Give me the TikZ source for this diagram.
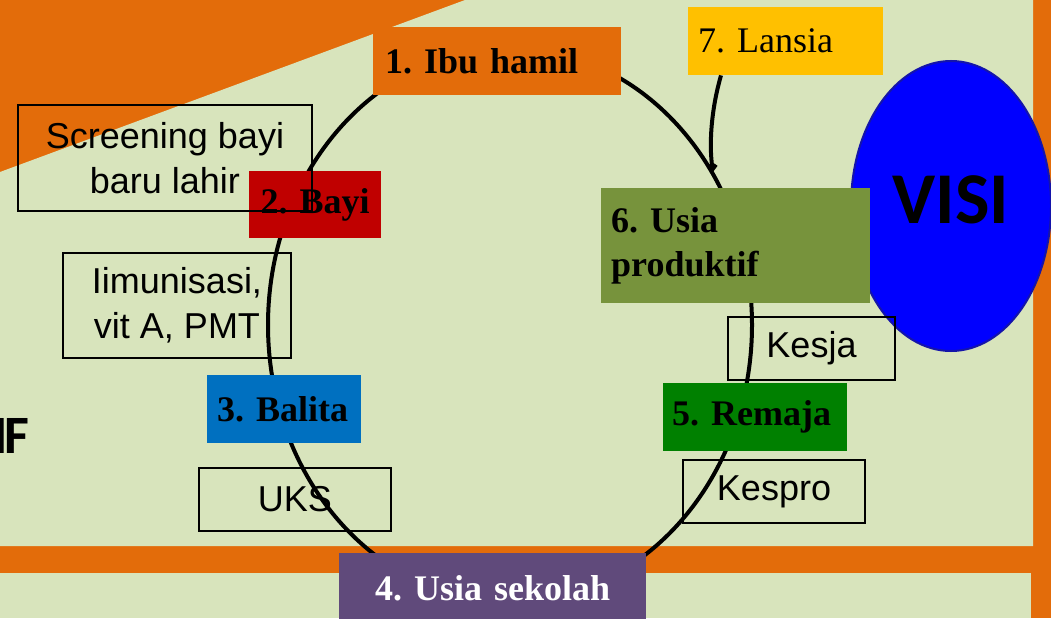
\documentclass[tikz,border=0pt]{standalone}
\usepackage{fontspec}
\setmainfont{Liberation Serif}
\newfontfamily\arialfont{Liberation Sans}
\newfontfamily\calibrifont{Carlito}
\usetikzlibrary{shapes.geometric,arrows.meta}
\frenchspacing

\definecolor{bgorange}{RGB}{227,108,10}
\definecolor{panelgreen}{RGB}{216,228,188}
\definecolor{ibuorange}{RGB}{227,108,10}
\definecolor{bayired}{RGB}{192,0,0}
\definecolor{balitablue}{RGB}{0,112,192}
\definecolor{sekolahpurple}{RGB}{96,74,123}
\definecolor{remajagreen}{RGB}{0,128,0}
\definecolor{produktifgreen}{RGB}{119,147,60}
\definecolor{lansiayellow}{RGB}{255,192,0}
\definecolor{visiblue}{RGB}{0,0,255}
\definecolor{visiedge}{RGB}{20,20,170}

\tikzstyle{stage} = [rectangle, anchor=north west, inner xsep=8pt, inner ysep=0pt,
	align=left, font=\bfseries\fontsize{36}{44}\selectfont]
\tikzstyle{note} = [rectangle, draw, line width=1.5pt, inner sep=0pt,
	align=center, font=\arialfont\fontsize{36}{45}\selectfont]

\begin{document}
\begin{tikzpicture}[x=1pt, y=-1pt]
	\useasboundingbox (0,0) rectangle (1051,618);
	% background panels
	\fill[bgorange] (0,0) rectangle (1051,618);
	\fill[panelgreen] (0,172) -- (465,0) -- (1033,0) -- (1033,546) -- (0,546) -- cycle;
	\fill[panelgreen] (0,573) rectangle (1031,618);
	\node [anchor=base east, inner sep=0pt, font=\calibrifont\bfseries\fontsize{54}{60}\selectfont] (misi) at (29,453) {I\kern-4pt F};
	
	% life cycle
	\draw[line width=4pt] (510,325) ellipse [x radius=242, y radius=277];
	
	\node [ellipse, fill=visiblue, draw=visiedge, line width=2pt, minimum width=200pt, minimum height=290pt,
		inner sep=0pt, text depth=12pt, font=\calibrifont\bfseries\fontsize{73}{80}\selectfont] (visi) at (951,206) {VISI};
	
	\node [stage, fill=ibuorange, text width=232pt, minimum height=68pt] (ibu) at (373,27) {\hspace*{4pt}1. Ibu hamil};
	\node [stage, fill=bayired, text width=116pt, minimum height=67pt, align=center] (bayi) at (249,171) {2. Bayi};
	\node [stage, fill=balitablue, text width=138pt, minimum height=68pt] (balita) at (207,375) {\hspace*{2pt}3. Balita};
	\node [stage, fill=sekolahpurple, text width=291pt, minimum height=70pt, align=center, text=white] (sekolah) at (339,553) {4. Usia sekolah};
	\node [stage, fill=remajagreen, text width=168pt, minimum height=68pt] (remaja) at (663,383) {\hspace*{1pt}5. Remaja};
	\node [stage, fill=produktifgreen, text width=253pt, minimum height=115pt] (produktif) at (601,188) {\hspace*{2pt}6. Usia\\\hspace*{2pt}produktif};
	\node [stage, fill=lansiayellow, text width=179pt, minimum height=68pt, font=\fontsize{36}{44}\selectfont] (lansia) at (688,7) {\hspace*{2pt}7. Lansia};
	
	\node [note, minimum width=294pt, minimum height=106pt] (screening) at (165,158) {Screening bayi\\baru lahir};
	\node [note, minimum width=228pt, minimum height=105pt] (imunisasi) at (177,305.5) {Iimunisasi,\\vit A, PMT};
	\node [note, minimum width=192pt, minimum height=63pt] (uks) at (295,499.5) {UKS};
	\node [note, minimum width=182pt, minimum height=63pt] (kespro) at (774,491.5) {Kespro};
	\node [note, minimum width=167pt, minimum height=63pt] (kesja) at (811.5,348.5) {Kesja};
	
	\coordinate (lansiaend) at (713,172);
	\draw[line width=4pt, -{Straight Barb[length=4pt,width=8pt]}]
	([xshift=33pt]lansia.south west) .. controls (711,110) and (709,145) .. (lansiaend);
\end{tikzpicture}
\end{document}
